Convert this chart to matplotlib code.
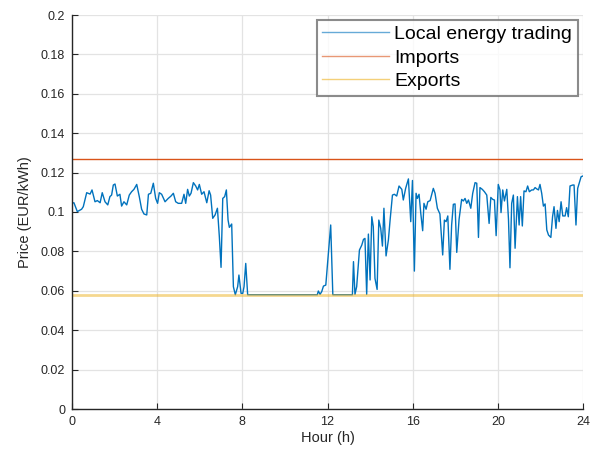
import matplotlib
matplotlib.use("Agg")
import matplotlib.pyplot as plt
from matplotlib.ticker import FuncFormatter

plt.rcParams['font.family'] = ['Liberation Sans', 'DejaVu Sans']

# Local energy trading price (hour, EUR/kWh)
hours = [0.00, 0.09, 0.25, 0.45, 0.53, 0.69, 0.85, 0.94, 1.08, 1.19, 1.32, 1.42, 1.55, 1.68,
         1.78, 1.86, 1.94, 2.02, 2.13, 2.25, 2.33, 2.44, 2.57, 2.69, 2.80, 2.91, 3.04, 3.16,
         3.27, 3.38, 3.51, 3.59, 3.70, 3.82, 3.93, 4.02, 4.10, 4.21, 4.37, 4.52, 4.65, 4.76,
         4.87, 4.99, 5.15, 5.26, 5.34, 5.43, 5.51, 5.59, 5.70, 5.81, 5.90, 5.98, 6.09, 6.20,
         6.33, 6.44, 6.51, 6.61, 6.72, 6.83, 6.92, 7.00, 7.08, 7.17, 7.25, 7.33, 7.39, 7.50,
         7.58, 7.67, 7.78, 7.84, 7.94, 8.02, 8.08, 8.16, 8.25, 11.52, 11.57, 11.65, 11.73,
         11.81, 11.92, 12.15, 12.25, 13.17, 13.22, 13.29, 13.37, 13.50, 13.61, 13.69, 13.76,
         13.84, 13.92, 14.00, 14.08, 14.15, 14.23, 14.33, 14.41, 14.50, 14.58, 14.65, 14.75,
         14.86, 14.94, 15.05, 15.14, 15.25, 15.36, 15.49, 15.56, 15.67, 15.80, 15.91, 15.99,
         16.08, 16.16, 16.22, 16.30, 16.38, 16.47, 16.53, 16.63, 16.71, 16.82, 16.89, 16.97,
         17.05, 17.16, 17.28, 17.41, 17.49, 17.57, 17.65, 17.75, 17.83, 17.91, 17.99, 18.07,
         18.18, 18.30, 18.38, 18.46, 18.54, 18.62, 18.73, 18.82, 18.93, 19.01, 19.09, 19.16,
         19.27, 19.37, 19.48, 19.59, 19.67, 19.76, 19.84, 19.92, 20.02, 20.10, 20.15, 20.23,
         20.31, 20.42, 20.50, 20.57, 20.65, 20.73, 20.81, 20.92, 21.00, 21.07, 21.15, 21.23,
         21.32, 21.40, 21.48, 21.59, 21.67, 21.75, 21.83, 21.91, 21.98, 22.06, 22.14, 22.22,
         22.30, 22.38, 22.49, 22.57, 22.64, 22.73, 22.80, 22.88, 22.97, 23.05, 23.16, 23.23,
         23.31, 23.39, 23.52, 23.58, 23.67, 23.75, 23.83, 23.91, 24.00]
local_price = [0.1045, 0.1047, 0.1002, 0.1014, 0.1027, 0.1098, 0.1091, 0.1112, 0.1052, 0.1058,
               0.1047, 0.1098, 0.1052, 0.1036, 0.1078, 0.1086, 0.1137, 0.1142, 0.1081, 0.1090,
               0.1030, 0.1052, 0.1036, 0.1086, 0.1103, 0.1115, 0.1140, 0.1078, 0.1014, 0.0990,
               0.0985, 0.1090, 0.1095, 0.1146, 0.1069, 0.1044, 0.1098, 0.1090, 0.1052, 0.1069,
               0.1081, 0.1095, 0.1052, 0.1044, 0.1044, 0.1090, 0.1044, 0.1115, 0.1081, 0.1095,
               0.1149, 0.1132, 0.1112, 0.1140, 0.1090, 0.1103, 0.1047, 0.1108, 0.1086, 0.0968,
               0.0985, 0.1019, 0.0875, 0.0719, 0.1069, 0.1078, 0.1112, 0.0959, 0.0922, 0.0939,
               0.0621, 0.0580, 0.0621, 0.0680, 0.0587, 0.0587, 0.0621, 0.0739, 0.0580, 0.0580,
               0.0599, 0.0582, 0.0596, 0.0624, 0.0629, 0.0934, 0.0580, 0.0580, 0.0748, 0.0582,
               0.0621, 0.0807, 0.0832, 0.0861, 0.0866, 0.0582, 0.0888, 0.0655, 0.0976, 0.0926,
               0.0663, 0.0607, 0.0959, 0.0917, 0.0827, 0.1019, 0.0777, 0.0858, 0.0959, 0.1086,
               0.1090, 0.1081, 0.1132, 0.1115, 0.1061, 0.1120, 0.1168, 0.0951, 0.1160, 0.0700,
               0.1095, 0.1069, 0.1090, 0.0994, 0.0905, 0.1044, 0.1014, 0.1052, 0.1058, 0.1086,
               0.1120, 0.1095, 0.1019, 0.0990, 0.0782, 0.0959, 0.0951, 0.0980, 0.0709, 0.0934,
               0.1039, 0.1041, 0.0795, 0.0963, 0.1064, 0.1056, 0.1069, 0.1044, 0.1061, 0.1019,
               0.1095, 0.1149, 0.1146, 0.0871, 0.1124, 0.1115, 0.1103, 0.1086, 0.0942, 0.1074,
               0.1064, 0.1061, 0.0880, 0.1140, 0.1112, 0.0997, 0.1112, 0.1056, 0.1115, 0.0963,
               0.0717, 0.1044, 0.1086, 0.0816, 0.1078, 0.0934, 0.1078, 0.0929, 0.1107, 0.1103,
               0.1132, 0.1103, 0.1112, 0.1112, 0.1124, 0.1117, 0.1112, 0.1140, 0.1095, 0.1030,
               0.1041, 0.0909, 0.0883, 0.0871, 0.0976, 0.1027, 0.0917, 0.1008, 0.0951, 0.1052,
               0.0980, 0.0980, 0.1022, 0.0976, 0.1132, 0.1137, 0.1137, 0.0934, 0.1120, 0.1149,
               0.1179, 0.1183]
import_price = 0.1267
export_price = 0.058

x_ticks = [0, 4, 8, 12, 16, 20, 24]
y_ticks = [0, 0.02, 0.04, 0.06, 0.08, 0.1, 0.12, 0.14, 0.16, 0.18, 0.2]

fig = plt.figure(figsize=(5.9, 4.5), dpi=100)
ax = fig.add_axes([72 / 590, 1 - 409 / 450, 511 / 590, 394 / 450])

ax.plot(hours, local_price, color='#0072BD', lw=1.0, label='Local energy trading')
ax.plot([0, 24], [import_price] * 2, color='#D95319', lw=1.0, label='Imports')
ax.plot([0, 24], [export_price] * 2, color='#EDB120', lw=2.0, alpha=0.5, label='Exports')

ax.set_xlim(0, 24)
ax.set_ylim(0, 0.2)
ax.set_xticks(x_ticks)
ax.set_yticks(y_ticks)
ax.yaxis.set_major_formatter(FuncFormatter(lambda v, p: '%g' % round(v, 2)))
ax.grid(True, color='#e3e3e3', lw=0.9)
ax.set_axisbelow(True)
for s in ['top', 'right']:
    ax.spines[s].set_visible(False)
for s in ['left', 'bottom']:
    ax.spines[s].set_color('#262626')
    ax.spines[s].set_linewidth(1.0)
ax.tick_params(direction='in', length=4, width=0.8, colors='#262626', labelsize=9, pad=5)

ax.set_xlabel('Hour (h)', fontsize=10.5, color='#262626', labelpad=2)
ax.set_ylabel('Price (EUR/kWh)', fontsize=10.5, color='#262626', labelpad=6)

leg = ax.legend(loc='upper right', fontsize=14, frameon=True, fancybox=False,
                borderaxespad=0.25, handlelength=3.4, handletextpad=0.3,
                labelspacing=0.3, borderpad=0.3)
leg.get_frame().set_edgecolor('#6e6e6e')
leg.get_frame().set_linewidth(1.5)
for line in leg.get_lines():
    line.set_linewidth(1.0)
    line.set_alpha(0.6)

fig.savefig('out.png', dpi=100)
